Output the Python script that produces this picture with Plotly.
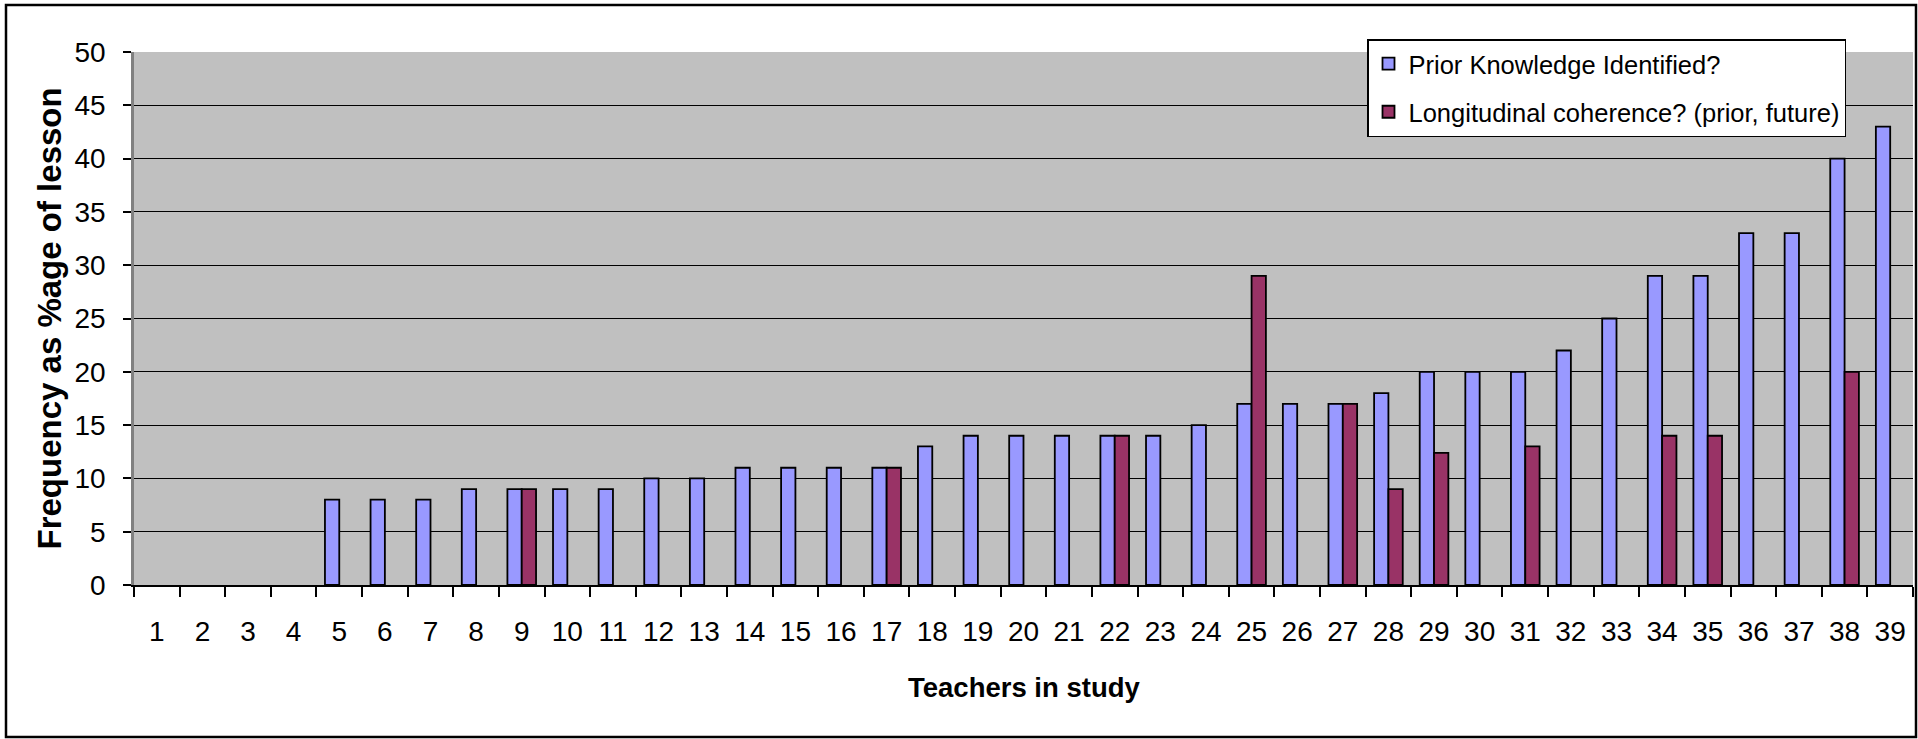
import plotly.graph_objects as go

teachers = [str(i) for i in range(1, 40)]
prior_knowledge = [0, 0, 0, 0, 8, 8, 8, 9, 9, 9, 9, 10, 10, 11, 11, 11, 11, 13, 14, 14,
                   14, 14, 14, 15, 17, 17, 17, 18, 20, 20, 20, 22, 25, 29, 29, 33, 33, 40, 43]
longitudinal = [0, 0, 0, 0, 0, 0, 0, 0, 9, 0, 0, 0, 0, 0, 0, 0, 11, 0, 0, 0,
                0, 14, 0, 0, 29, 0, 17, 9, 12.4, 0, 13, 0, 0, 14, 14, 0, 0, 20, 0]
series_names = ["Prior Knowledge Identified?", "Longitudinal coherence? (prior, future)"]
y_ticks = list(range(0, 51, 5))

W, H = 1918, 739
L, R, T, B = 134, 1913, 52, 585
pw, ph = R - L, B - T

def nz(v):
    return [x if x else None for x in v]

fig = go.Figure()
fig.add_trace(go.Bar(x=teachers, y=nz(prior_knowledge), name=series_names[0],
                     marker=dict(color="#9999FF", line=dict(color="black", width=1.8)),
                     legendgroup="a"))
fig.add_trace(go.Bar(x=teachers, y=nz(longitudinal), name=series_names[1],
                     marker=dict(color="#993366", line=dict(color="black", width=1.8)),
                     legendgroup="b"))

fig.update_layout(
    width=W, height=H,
    margin=dict(l=L, r=W - R, t=T, b=H - B, autoexpand=False),
    paper_bgcolor="white", plot_bgcolor="#C0C0C0",
    barmode="group", bargap=0.372, bargroupgap=0,
    font=dict(family="Liberation Sans, Arial, sans-serif", size=28, color="black"),
    showlegend=True,
    legend=dict(x=(1367 - L) / pw, y=(B - 39) / ph, xanchor="left", yanchor="top",
                bgcolor="white", bordercolor="black", borderwidth=1.5,
                font=dict(family="Liberation Sans, Arial, sans-serif", size=25.5),
                traceorder="grouped", tracegroupgap=12),
    xaxis=dict(type="category", categoryorder="array", categoryarray=teachers,
               showgrid=False, showline=True, linecolor="black", linewidth=1.5,
               ticks="outside", tickson="boundaries", ticklen=10, tickcolor="black", tickwidth=1.5,
               ticklabelstandoff=21, tickfont=dict(size=28)),
    yaxis=dict(range=[0, 50], tickvals=y_ticks, showgrid=True, gridcolor="black", gridwidth=1.2,
               zeroline=False, showline=True, linecolor="#808080", linewidth=2.5,
               ticks="outside", ticklen=8, tickcolor="black", tickwidth=1.5,
               ticklabelstandoff=12, tickfont=dict(size=28)),
)

fig.add_annotation(text="<b>Teachers in study</b>", xref="paper", yref="paper",
                   x=0.5, y=-(687 - B) / ph, xanchor="center", yanchor="middle", showarrow=False,
                   font=dict(family="Liberation Sans, Arial, sans-serif", size=27.5))
fig.add_annotation(text="<b>Frequency as %age of lesson</b>", xref="paper", yref="paper",
                   x=(49 - L) / pw, y=0.5, xanchor="center", yanchor="middle", showarrow=False,
                   textangle=-90, font=dict(family="Liberation Sans, Arial, sans-serif", size=33))

fig.add_shape(type="rect", xref="paper", yref="paper",
              x0=(6 - L) / pw, x1=(1916 - L) / pw, y0=(B - 737) / ph, y1=(B - 5) / ph,
              line=dict(color="black", width=2.5), fillcolor="rgba(0,0,0,0)", layer="above")

fig.write_html("out.html", config={"displayModeBar": False},
               post_script="document.body.style.margin='0';document.body.style.overflow='hidden';")
